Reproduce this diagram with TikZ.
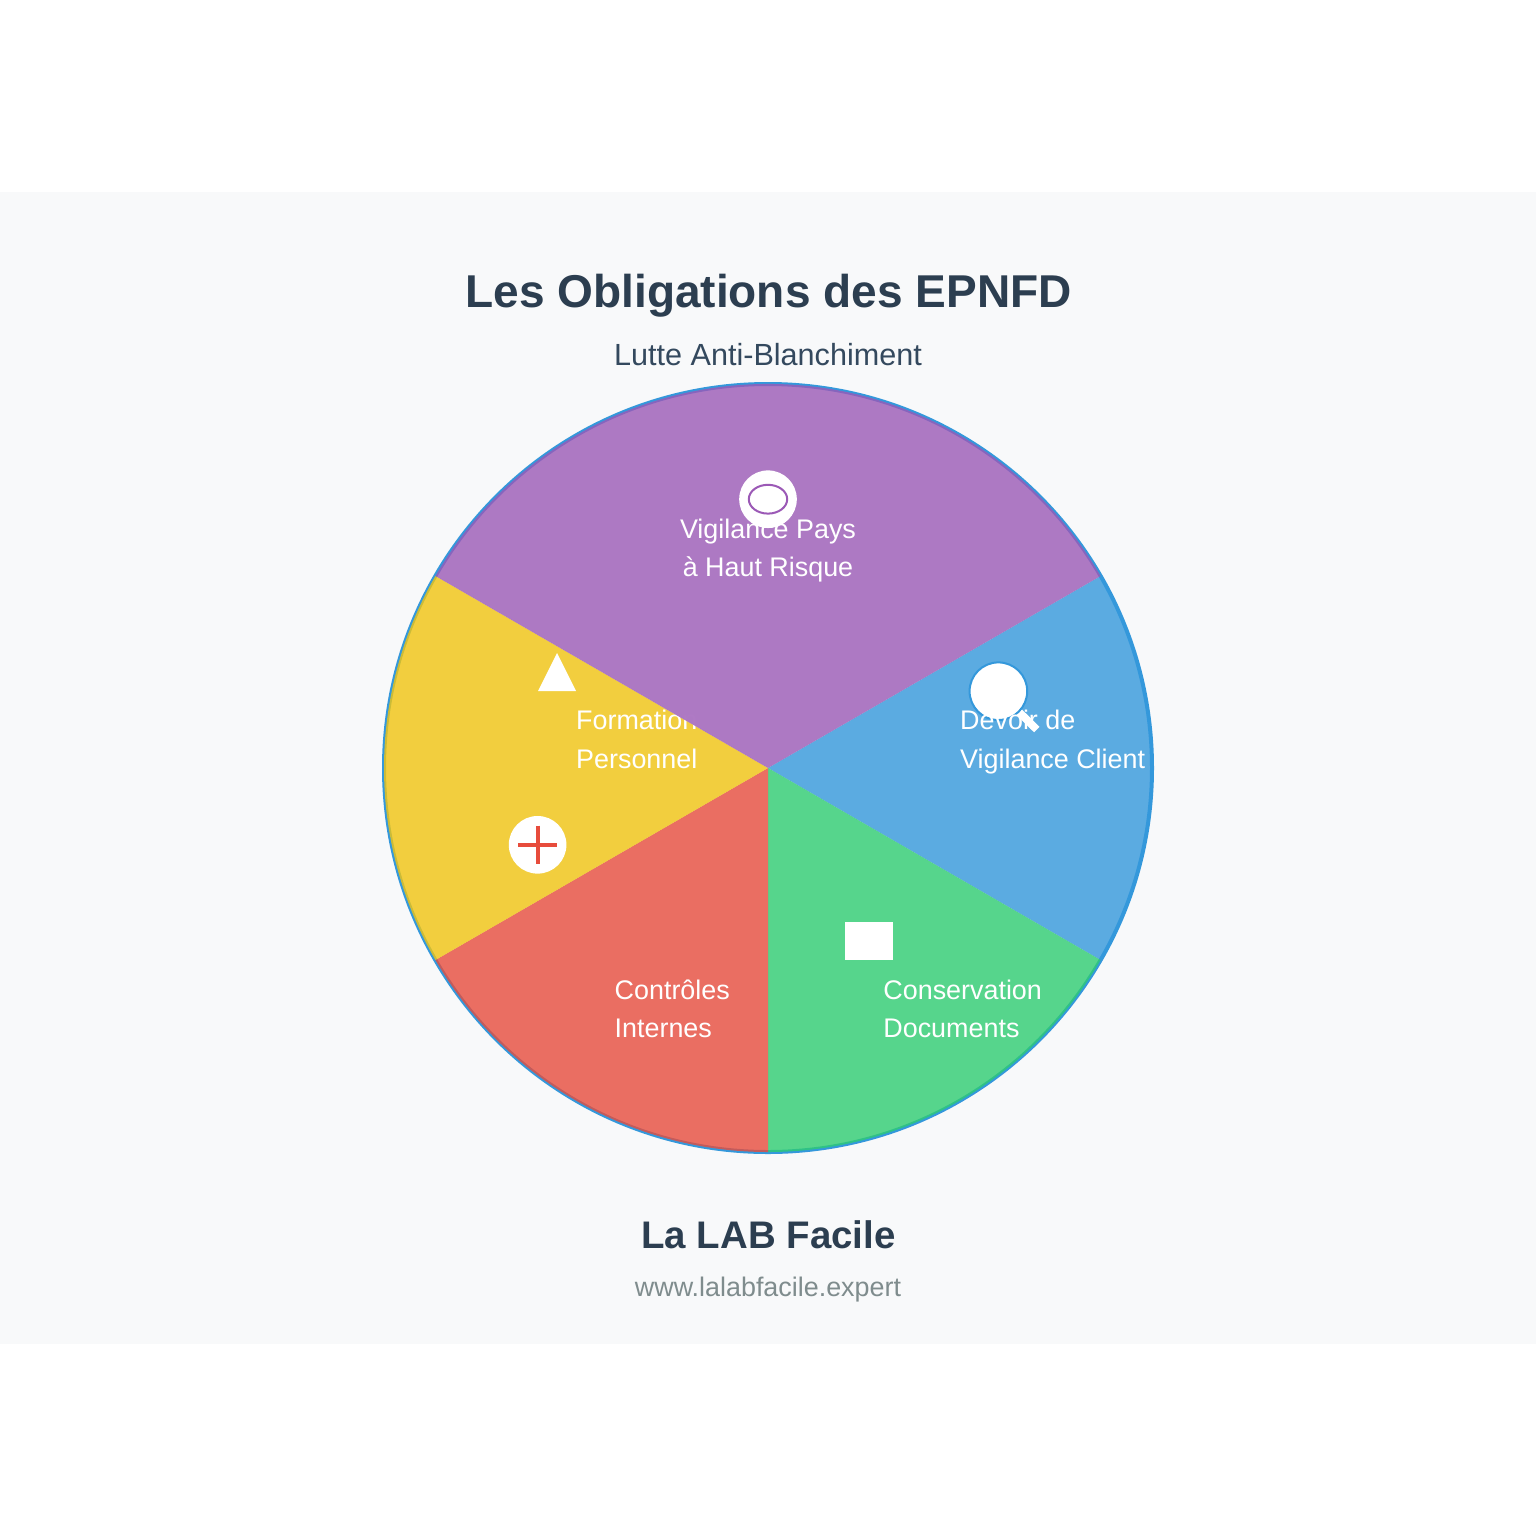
\documentclass[tikz,border=0pt]{standalone}
\usepackage{xcolor}
\usepackage{fontspec}
\setmainfont{Liberation Sans}
\usetikzlibrary{positioning}
\definecolor{bandgrey}{HTML}{F8F9FA}
\definecolor{titleblue}{HTML}{2C3E50}
\definecolor{subblue}{HTML}{34495E}
\definecolor{urlgrey}{HTML}{7F8C8D}
\definecolor{rimblue}{HTML}{3498DB}
\definecolor{slicegreen}{HTML}{2ECC71}
\definecolor{slicered}{HTML}{E74C3C}
\definecolor{sliceyellow}{HTML}{F1C40F}
\definecolor{slicepurple}{HTML}{9B59B6}
\tikzset{
  slice/.style={fill opacity=0.8,draw=none},
  headtext/.style={anchor=base,inner sep=0pt},
  labeltext/.style={anchor=base west,inner sep=0pt,text=white,align=left,
    font=\fontsize{7.65}{10.85}\selectfont},
  disc/.style={circle,fill=white,inner sep=0pt,minimum size=0.576cm}
}
\begin{document}
\begin{tikzpicture}[x=0.01cm,y=-0.01cm]
  \useasboundingbox (0,0) rectangle (1536,1536);
  \fill[white] (0,0) rectangle (1536,1536);
  \fill[bandgrey] (0,192) rectangle (1536,1344);
  \node[headtext,text=titleblue,font=\fontsize{13.09}{16}\selectfont\bfseries] (title) at (768.5,307) {Les Obligations des EPNFD};
  \node[headtext,text=subblue,font=\fontsize{8.70}{11}\selectfont] (subtitle) at (768,365) {Lutte Anti-Blanchiment};
  \coordinate (hub) at (768,768);
  \draw[rimblue,line width=0.04cm] (hub) circle[radius=384];
  % blue
  \fill[rimblue,slice] (hub) -- ++(-30:384) arc[start angle=-30,end angle=30,radius=384] -- cycle;
  \coordinate (handlea) at (1016,709);
  \coordinate (handleb) at (1036.8,729.6);
  \draw[white,line width=0.0768cm] (handlea) -- (handleb);
  \node[disc,draw=rimblue,line width=0.02cm] (lens) at (998.4,691.2) {};
  \node[labeltext] (devoir) at (959.5,768) {Devoir de\\Vigilance Client};
  % green
  \fill[slicegreen,slice] (hub) -- ++(30:384) arc[start angle=30,end angle=90,radius=384] -- cycle;
  \fill[white] (845,922) rectangle (893,960);
  \node[labeltext] (conservation) at (882.7,1037.5) {Conservation\\Documents};
  % red
  \fill[slicered,slice] (hub) -- ++(90:384) arc[start angle=90,end angle=150,radius=384] -- cycle;
  \node[labeltext] (controles) at (614,1037.5) {Contrôles\\Internes};
  % yellow
  \fill[sliceyellow,slice] (hub) -- ++(150:384) arc[start angle=150,end angle=210,radius=384] -- cycle;
  \fill[white] (557,653) -- (576,691) -- (538,691) -- cycle;
  \node[labeltext] (formation) at (575.5,768) {Formation\\Personnel};
  \node[disc] (cross) at (537.6,844.8) {};
  \draw[slicered,line width=0.0384cm] (cross.center) ++(-19.2,0) -- ++(38.4,0);
  \draw[slicered,line width=0.0384cm] (cross.center) ++(0,-19.2) -- ++(0,38.4);
  % purple
  \fill[slicepurple,slice] (hub) -- ++(210:384) arc[start angle=210,end angle=330,radius=384] -- cycle;
  \node[disc] (globe) at (768,499.2) {};
  \draw[slicepurple,line width=0.02cm] (globe.center) ellipse[x radius=19.2,y radius=14.4];
  \node[labeltext,align=center,anchor=base] (vigilance) at (768,576.4) {Vigilance Pays\\à Haut Risque};
  \node[headtext,text=titleblue,font=\fontsize{10.93}{13}\selectfont\bfseries] (brand) at (768.5,1248) {La LAB Facile};
  \node[headtext,text=urlgrey,font=\fontsize{7.65}{10}\selectfont] (url) at (768,1296) {www.lalabfacile.expert};
\end{tikzpicture}
\end{document}
